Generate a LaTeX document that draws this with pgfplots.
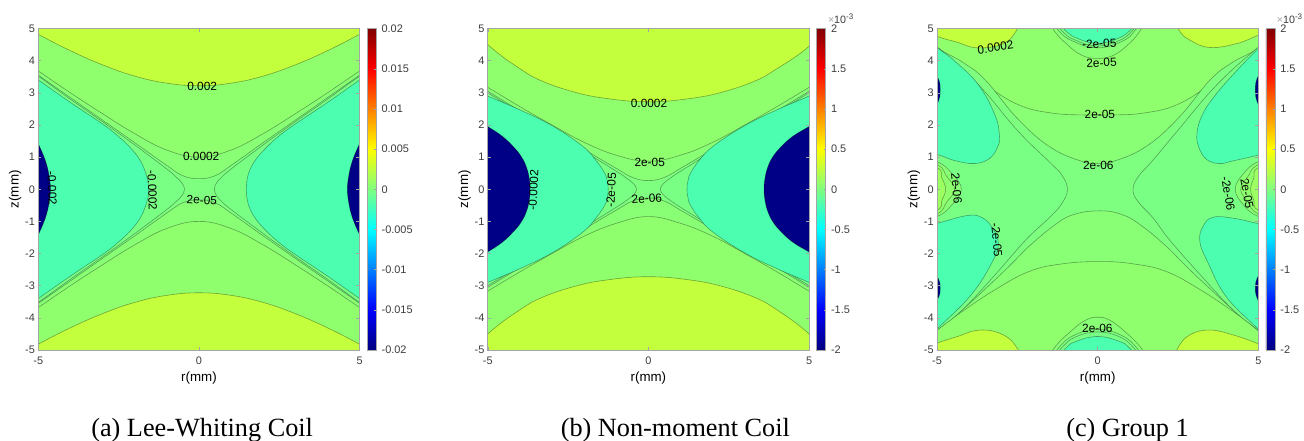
\documentclass[border=0pt]{standalone}
\usepackage{pgfplots}
\pgfplotsset{compat=1.18}
\usepackage{fontspec}
\setmainfont{Liberation Sans}
\newfontfamily\capfont{Liberation Serif}
\definecolor{cY}{RGB}{195,255,60}
\definecolor{cA}{RGB}{144,255,110}
\definecolor{cB}{RGB}{137,255,117}
\definecolor{cC}{RGB}{127,255,128}
\definecolor{cD}{RGB}{122,255,133}
\definecolor{cT}{RGB}{76,255,176}
\definecolor{cN}{RGB}{0,0,135}
\definecolor{cL}{RGB}{156,255,98}
\definecolor{frame}{RGB}{165,165,165}
\definecolor{txt}{RGB}{60,60,60}
\tikzset{nf/.style={font=\fontsize{8.9}{9}\selectfont,inner sep=0pt,text=black}}
\pgfplotsset{
 ct/.style={smooth,tension=.7,mark=none,forget plot,line width=.45pt,draw=black,draw opacity=.36,fill=#1},
 panel/.style={
  scale only axis,width=241pt,height=241.1pt,
  xmin=-5,xmax=5,ymin=-5,ymax=5,
  axis background/.style={fill=cA},
  axis on top,
  xtick={-5,0,5},xticklabels={-5,0,5},
  ytick={-5,-4,-3,-2,-1,0,1,2,3,4,5},
  yticklabels={-5,-4,-3,-2,-1,0,1,2,3,4,5},
  tick align=inside,major tick length=2.4pt,
  tick style={color=frame,line width=.35pt},
  axis line style={color=frame,line width=.6pt},
  ticklabel style={font=\fontsize{8.2}{9}\selectfont,text=txt},
  xticklabel style={yshift=-1.7pt},
  yticklabel style={xshift=1pt},
  xlabel={r(mm)},ylabel={z(mm)},
  label style={font=\fontsize{8.1}{9}\selectfont,text=txt},
  every axis x label/.style={at={(axis description cs:0.5,-0.086)},anchor=center},
  every axis y label/.style={at={(axis description cs:-0.0716,0.5)},anchor=center,rotate=90},
  colormap/jet,colorbar,
  point meta min=-2,point meta max=2,
 },
 cb/.style={
  colorbar style={
   at={(parent axis.north east)},anchor=north west,xshift=-2.95pt,
   width=6.9pt,height=241.1pt,
   ytick={-2,-1.5,-1,-0.5,0,0.5,1,1.5,2},
   yticklabels={#1},
   ytick pos=right,yticklabel pos=right,
   tick align=inside,major tick length=1.5pt,
   tick style={color=frame,line width=.3pt},
   axis line style={color=frame,line width=.4pt},
   yticklabel style={font=\fontsize{8.2}{9}\selectfont,text=txt,xshift=0.5pt},
  }
 },
}
\begin{document}
\begin{tikzpicture}
\path[use as bounding box] (0pt,0pt) rectangle (978pt,330.75pt);
% ---------- panel a
\begin{axis}[panel,cb={-0.02,-0.015,-0.01,-0.005,0,0.005,0.01,0.015,0.02},
  at={(28.7pt,68.25pt)},anchor=south west]
\addplot[ct=cY] coordinates {(0,10)(-7,8)(-6,5.37)(-5,4.82)(-4,4.31)(-3,3.87)(-2,3.52)(-1,3.30)(0,3.22)(1,3.30)(2,3.52)(3,3.87)(4,4.31)(5,4.82)(6,5.37)(7,8)};
\addplot[ct=cY] coordinates {(0,-10)(-7,-8)(-6,-5.37)(-5,-4.82)(-4,-4.31)(-3,-3.87)(-2,-3.52)(-1,-3.30)(0,-3.22)(1,-3.30)(2,-3.52)(3,-3.87)(4,-4.31)(5,-4.82)(6,-5.37)(7,-8)};
\addplot[ct=cB] coordinates {(-7,0)(-6,4.36)(-5,3.68)(-4,3.0)(-3,2.35)(-2,1.73)(-1,1.22)(0,1.0)(1,1.22)(2,1.73)(3,2.35)(4,3.0)(5,3.68)(6,4.36)(7,0)(6,-4.36)(5,-3.68)(4,-3.0)(3,-2.35)(2,-1.73)(1,-1.22)(0,-1.0)(-1,-1.22)(-2,-1.73)(-3,-2.35)(-4,-3.0)(-5,-3.68)(-6,-4.36)};
\addplot[ct=cC] coordinates {(-7,0)(-6,4.25)(-5,3.55)(-4,2.85)(-3,2.15)(-2,1.45)(-1,.74)(-.5,.42)(0,.33)(.5,.42)(1,.74)(2,1.45)(3,2.15)(4,2.85)(5,3.55)(6,4.25)(7,0)(6,-4.25)(5,-3.55)(4,-2.85)(3,-2.15)(2,-1.45)(1,-.74)(.5,-.42)(0,-.33)(-.5,-.42)(-1,-.74)(-2,-1.45)(-3,-2.15)(-4,-2.85)(-5,-3.55)(-6,-4.25)};
\addplot[ct=cD] coordinates {(-8,0)(-6,4.2)(-5,3.52)(-4,2.8)(-3,2.1)(-2,1.38)(-1,.63)(-.7,.37)(-.53,.2)(-.45,0)(-.53,-.2)(-.7,-.37)(-1,-.63)(-2,-1.38)(-3,-2.1)(-4,-2.8)(-5,-3.52)(-6,-4.2)};
\addplot[ct=cD] coordinates {(8,0)(6,4.2)(5,3.52)(4,2.8)(3,2.1)(2,1.38)(1,.63)(.7,.37)(.55,.2)(.48,0)(.55,-.2)(.7,-.37)(1,-.63)(2,-1.38)(3,-2.1)(4,-2.8)(5,-3.52)(6,-4.2)};
\addplot[ct=cT] coordinates {(-8,0)(-6,4.1)(-5,3.4)(-4,2.7)(-3,2.03)(-2.55,1.68)(-2.15,1.31)(-1.83,.9)(-1.65,.49)(-1.58,.25)(-1.56,0)(-1.58,-.25)(-1.65,-.49)(-1.83,-.9)(-2.15,-1.31)(-2.55,-1.68)(-3,-2.03)(-4,-2.7)(-5,-3.4)(-6,-4.1)};
\addplot[ct=cT] coordinates {(8,0)(6,4.1)(5,3.4)(4,2.7)(3,2.03)(2.52,1.68)(2.11,1.31)(1.75,.9)(1.54,.49)(1.49,.25)(1.47,0)(1.49,-.25)(1.54,-.49)(1.75,-.9)(2.11,-1.31)(2.52,-1.68)(3,-2.03)(4,-2.7)(5,-3.4)(6,-4.1)};
\addplot[ct=cN] coordinates {(-7,0)(-5.25,1.85)(-5,1.42)(-4.88,1.15)(-4.75,.8)(-4.66,.4)(-4.62,0)(-4.66,-.4)(-4.75,-.8)(-4.88,-1.15)(-5,-1.42)(-5.25,-1.85)};
\addplot[ct=cN] coordinates {(7,0)(5.25,1.85)(5,1.42)(4.88,1.15)(4.75,.8)(4.66,.4)(4.62,0)(4.66,-.4)(4.75,-.8)(4.88,-1.15)(5,-1.42)(5.25,-1.85)};
\node[nf] at (axis cs:.1,3.19) {0.002};
\node[nf] at (axis cs:.07,1.01) {0.0002};
\node[nf,rotate=-3] at (axis cs:.09,-.34) {2e-05};
\node[nf,rotate=-88] at (axis cs:-4.57,.03) {-0.002};
\node[nf,rotate=-88] at (axis cs:-1.45,-.03) {-0.0002};
\end{axis}
% ---------- panel b
\begin{axis}[panel,cb={-2,-1.5,-1,-0.5,0,0.5,1,1.5,2},
  at={(365.8pt,68.25pt)},anchor=south west]
\addplot[ct=cY] coordinates {(0,10)(-7,8)(-5.6,5.1)(-5,4.5)(-4.4,4.02)(-4,3.75)(-3.37,3.39)(-2.33,3.03)(-1.28,2.82)(0,2.72)(1.28,2.82)(2.33,3.03)(3.37,3.39)(4,3.75)(4.4,4.0)(5,4.45)(5.6,5.1)(7,8)};
\addplot[ct=cY] coordinates {(0,-10)(-7,-8)(-5.6,-5.1)(-5,-4.5)(-4.4,-4.02)(-4,-3.75)(-3.37,-3.39)(-2.33,-3.03)(-1.28,-2.82)(0,-2.72)(1.28,-2.82)(2.33,-3.03)(3.37,-3.39)(4,-3.75)(4.4,-4.02)(5,-4.5)(5.6,-5.1)(7,-8)};
\addplot[ct=cB] coordinates {(-7,0)(-6,3.77)(-5,3.17)(-4,2.57)(-3,2.0)(-2,1.46)(-1,1.06)(0,.87)(1,1.06)(2,1.46)(3,2.0)(4,2.57)(5,3.17)(6,3.77)(7,0)(6,-3.77)(5,-3.17)(4,-2.57)(3,-2.0)(2,-1.46)(1,-1.06)(0,-.85)(-1,-1.06)(-2,-1.46)(-3,-2.0)(-4,-2.57)(-5,-3.17)(-6,-3.77)};
\addplot[ct=cC] coordinates {(-7,0)(-6,3.66)(-5,3.05)(-4,2.44)(-3,1.85)(-2,1.24)(-1,.65)(-.5,.37)(0,.27)(.5,.37)(1,.65)(2,1.24)(3,1.85)(4,2.44)(5,3.05)(6,3.66)(7,0)(6,-3.66)(5,-3.05)(4,-2.44)(3,-1.85)(2,-1.24)(1,-.65)(.5,-.37)(0,-.27)(-.5,-.37)(-1,-.65)(-2,-1.24)(-3,-1.85)(-4,-2.44)(-5,-3.05)(-6,-3.66)};
\addplot[ct=cD] coordinates {(-8,0)(-6,3.6)(-5,3.0)(-4,2.39)(-3,1.79)(-2,1.18)(-1,.56)(-.7,.36)(-.47,.18)(-.37,0)(-.47,-.18)(-.7,-.36)(-1,-.56)(-2,-1.18)(-3,-1.79)(-4,-2.39)(-5,-3.0)(-6,-3.6)};
\addplot[ct=cD] coordinates {(8,0)(6,3.6)(5,3.0)(4,2.39)(3,1.79)(2,1.18)(1,.56)(.7,.36)(.47,.18)(.37,0)(.47,-.18)(.7,-.36)(1,-.56)(2,-1.18)(3,-1.79)(4,-2.39)(5,-3.0)(6,-3.6)};
\addplot[ct=cT] coordinates {(-8,0)(-6,3.35)(-5,2.9)(-4,2.47)(-3,1.98)(-2.06,1.35)(-1.65,.92)(-1.36,.5)(-1.28,.25)(-1.25,0)(-1.28,-.25)(-1.36,-.5)(-1.65,-.92)(-2.06,-1.35)(-3,-1.98)(-4,-2.47)(-5,-2.9)(-6,-3.35)};
\addplot[ct=cT] coordinates {(8,0)(6,3.35)(5,2.9)(4,2.47)(3,1.98)(2.03,1.35)(1.6,.92)(1.31,.5)(1.23,.25)(1.2,0)(1.23,-.25)(1.31,-.5)(1.6,-.92)(2.03,-1.35)(3,-1.98)(4,-2.47)(5,-2.9)(6,-3.35)};
\addplot[ct=cN] coordinates {(-8,0)(-5.5,2.25)(-5,1.95)(-4.55,1.65)(-4.2,1.32)(-3.96,1.02)(-3.8,.7)(-3.71,.35)(-3.68,0)(-3.71,-.35)(-3.8,-.7)(-3.96,-1.02)(-4.2,-1.32)(-4.55,-1.65)(-5,-1.95)(-5.5,-2.25)};
\addplot[ct=cN] coordinates {(8,0)(5.5,2.25)(5,1.95)(4.5,1.65)(4.13,1.32)(3.88,1.02)(3.72,.7)(3.63,.35)(3.6,0)(3.63,-.35)(3.72,-.7)(3.88,-1.02)(4.13,-1.32)(4.5,-1.65)(5,-1.95)(5.5,-2.25)};
\node[nf] at (axis cs:.02,2.67) {0.0002};
\node[nf] at (axis cs:.04,.82) {2e-05};
\node[nf,rotate=4] at (axis cs:-.05,-.29) {2e-06};
\node[nf,rotate=87] at (axis cs:-3.58,-.02) {-0.0002};
\node[nf,rotate=87] at (axis cs:-1.16,-.03) {-2e-05};
\end{axis}
% ---------- panel c
\begin{axis}[panel,cb={-2,-1.5,-1,-0.5,0,0.5,1,1.5,2},
  at={(702.75pt,68.25pt)},anchor=south west]
\addplot[ct=cB] coordinates {(-7,0)(-6,5.3)(-5,4.42)(-4.2,3.75)(-3.5,3.25)(-2.47,2.63)(-1.43,2.37)(-.4,2.31)(.4,2.31)(1.43,2.37)(2.47,2.63)(3.5,3.25)(4.2,3.75)(5,4.4)(6,5.3)(7,0)(6,-5.3)(5,-4.38)(4.21,-3.8)(3.2,-3.13)(2.14,-2.56)(1.1,-2.32)(.07,-2.25)(-1.1,-2.32)(-2.14,-2.56)(-3.2,-3.13)(-4.21,-3.8)(-5,-4.38)(-6,-5.3)};
\addplot[ct=cC] coordinates {(-7,0)(-6,5.3)(-5,4.42)(-4.2,3.95)(-3.5,3.4)(-2.47,2.17)(-1.43,1.28)(-.4,.84)(0,.8)(.4,.84)(1.43,1.28)(2.47,2.17)(3.5,3.4)(4.2,3.95)(5,4.4)(6,5.3)(7,0)(6,-5.3)(4.96,-4.37)(4.21,-3.75)(3.2,-2.82)(2.66,-2.3)(2.14,-1.78)(1.4,-1.16)(.79,-.8)(.07,-.67)(-.79,-.8)(-1.4,-1.16)(-2.14,-1.78)(-2.66,-2.3)(-3.2,-2.82)(-4.21,-3.75)(-5,-4.37)(-6,-5.3)};
\addplot[ct=cD] coordinates {(-8,0)(-6,5.2)(-5,4.42)(-3.71,3.25)(-2.47,1.8)(-1.43,.78)(-1.12,.45)(-.94,0)(-1.12,-.45)(-1.5,-.88)(-2.24,-1.58)(-3.2,-2.67)(-4.21,-3.75)(-5,-4.39)(-6,-5.2)};
\addplot[ct=cD] coordinates {(8,0)(6,5.2)(5,4.42)(3.71,3.25)(2.47,1.8)(1.7,.88)(1.26,.39)(1.1,-.02)(1.26,-.39)(1.73,-.9)(2.24,-1.58)(3.2,-2.67)(4.21,-3.75)(5,-4.39)(6,-5.2)};
\addplot[ct=cB] coordinates {(-7,0)(-6,1.2)(-5,.86)(-4.55,.5)(-4.24,0)(-4.55,-.5)(-5,-.85)(-6,-1.2)};
\addplot[ct=cA] coordinates {(-7,0)(-6,1.1)(-5,.77)(-4.7,.4)(-4.45,0)(-4.7,-.4)(-5,-.77)(-6,-1.1)};
\addplot[ct=cL] coordinates {(-7,0)(-6,.95)(-5,.67)(-4.85,.35)(-4.73,0)(-4.85,-.35)(-5,-.65)(-6,-.95)};
\addplot[ct=cB] coordinates {(7,0)(6,1.2)(5,.86)(4.55,.5)(4.28,0)(4.55,-.5)(5,-.85)(6,-1.2)};
\addplot[ct=cA] coordinates {(7,0)(6,1.1)(5,.77)(4.68,.4)(4.45,0)(4.68,-.4)(5,-.77)(6,-1.1)};
\addplot[ct=cL] coordinates {(7,0)(6,.95)(5,.67)(4.86,.35)(4.76,0)(4.86,-.35)(5,-.65)(6,-.95)};
\addplot[ct=cT] coordinates {(-7,2)(-6,1.3)(-5,1.08)(-4.44,.89)(-3.82,.8)(-3.35,.97)(-3.1,1.35)(-3.06,1.7)(-3.2,2.32)(-3.71,3.25)(-4.44,3.98)(-5,4.42)(-6,5.3)};
\addplot[ct=cT] coordinates {(7,2)(6,1.3)(5,1.06)(4.2,.88)(3.8,.8)(3.4,.92)(3.15,1.3)(3.09,1.74)(3.25,2.3)(3.6,2.85)(4.2,3.55)(5,4.38)(6,5.3)};
\addplot[ct=cT] coordinates {(-7,-2)(-6,-1.3)(-5,-1.06)(-4.07,-.82)(-3.6,-.88)(-3.28,-1.2)(-3.09,-1.68)(-3.3,-2.3)(-3.95,-3.3)(-5,-4.35)(-6,-5.3)};
\addplot[ct=cT] coordinates {(7,-2)(6,-1.3)(4.96,-1.06)(4.21,-.9)(3.59,-.87)(3.28,-1.15)(3.18,-1.63)(3.44,-2.3)(4.0,-3.34)(4.96,-4.32)(6,-5.3)};
\addplot[ct=cN] coordinates {(-7,3.1)(-5.4,4.2)(-5,3.53)(-4.9,3.1)(-5,2.64)(-5.4,2)};
\addplot[ct=cN] coordinates {(7,3.1)(5.4,4.2)(5,3.53)(4.91,3.1)(5,2.64)(5.4,2)};
\addplot[ct=cN] coordinates {(-7,-3.1)(-5.4,-4.2)(-5,-3.47)(-4.9,-3.08)(-5,-2.69)(-5.4,-2)};
\addplot[ct=cN] coordinates {(7,-3.1)(5.4,-4.2)(5,-3.47)(4.91,-3.08)(5,-2.69)(5.4,-2)};
% top arcs
\addplot[ct=cB] coordinates {(0,8)(-2,6)(-1.4,5)(-1,4.55)(-.5,4.17)(0,4.07)(.5,4.17)(1,4.55)(1.37,5)(2,6)};
\addplot[ct=cC] coordinates {(0,8)(-2,6)(-1.27,5)(-.8,4.62)(0,4.4)(.8,4.62)(1.21,5)(2,6)};
\addplot[ct=cD] coordinates {(0,8)(-2,6)(-1.18,5)(-.7,4.64)(0,4.46)(.7,4.64)(1.14,5)(2,6)};
\addplot[ct=cT] coordinates {(0,8)(-2,6)(-1.07,5)(-.6,4.68)(0,4.54)(.6,4.68)(1.07,5)(2,6)};
% bottom arcs
\addplot[ct=cB] coordinates {(0,-8)(-2,-6)(-1.4,-5)(-.79,-4.38)(-.35,-4.06)(0,-3.98)(.35,-4.06)(.79,-4.38)(1.4,-5)(2,-6)};
\addplot[ct=cC] coordinates {(0,-8)(-2,-6)(-1.27,-5)(-.75,-4.55)(0,-4.36)(.75,-4.55)(1.27,-5)(2,-6)};
\addplot[ct=cD] coordinates {(0,-8)(-2,-6)(-1.18,-5)(-.7,-4.6)(0,-4.44)(.7,-4.6)(1.18,-5)(2,-6)};
\addplot[ct=cT] coordinates {(0,-8)(-2,-6)(-1.05,-5)(-.69,-4.74)(0,-4.58)(.69,-4.74)(1.05,-5)(2,-6)};
% yellow corners
\addplot[ct=cY] coordinates {(-7,7)(-6,5.2)(-5,4.76)(-4.39,4.58)(-3.75,4.4)(-2.94,4.53)(-2.49,5)(-2,6)};
\addplot[ct=cY] coordinates {(7,7)(6,5.2)(5,4.79)(4.32,4.53)(3.49,4.41)(2.87,4.64)(2.5,5)(2,6)};
\addplot[ct=cY] coordinates {(-7,-7)(-6,-5.2)(-5,-4.79)(-4.39,-4.59)(-3.66,-4.38)(-2.94,-4.53)(-2.47,-5)(-2,-6)};
\addplot[ct=cY] coordinates {(7,-7)(6,-5.2)(4.96,-4.79)(4.21,-4.53)(3.49,-4.38)(2.87,-4.53)(2.47,-4.98)(2,-6)};
\node[nf,rotate=8] at (axis cs:-3.18,4.41) {0.0002};
\node[nf,rotate=3] at (axis cs:.05,4.53) {-2e-05};
\node[nf,rotate=3] at (axis cs:.12,3.93) {2e-05};
\node[nf] at (axis cs:.07,2.33) {2e-05};
\node[nf] at (axis cs:.02,.75) {2e-06};
\node[nf] at (axis cs:-.01,-4.33) {2e-06};
\node[nf,rotate=-85] at (axis cs:-4.39,.03) {2e-06};
\node[nf,rotate=-80] at (axis cs:4.06,-.13) {-2e-06};
\node[nf,rotate=-80] at (axis cs:4.65,-.13) {2e-05};
\node[nf,rotate=-85] at (axis cs:-3.14,-1.58) {-2e-05};
\end{axis}
% scale marks
\node[anchor=base west,inner sep=0pt,text=txt,font=\fontsize{8}{9}\selectfont] at (620.8pt,312.75pt) {\textcolor{frame}{×}10\raisebox{3.2pt}{\fontsize{6}{7}\selectfont -3}};
\node[anchor=base west,inner sep=0pt,text=txt,font=\fontsize{8}{9}\selectfont] at (957.5pt,312.75pt) {\textcolor{frame}{×}10\raisebox{3.2pt}{\fontsize{6}{7}\selectfont -3}};
% captions
\node[anchor=base west,inner sep=0pt,font=\fontsize{19.7}{22}\selectfont\capfont] at (68.25pt,3.2pt) {(a) Lee-Whiting Coil};
\node[anchor=base west,inner sep=0pt,font=\fontsize{19.7}{22}\selectfont\capfont] at (420.4pt,3.2pt) {(b) Non-moment Coil};
\node[anchor=base west,inner sep=0pt,font=\fontsize{19.7}{22}\selectfont\capfont] at (799.5pt,3.2pt) {(c) Group 1};
\end{tikzpicture}
\end{document}
